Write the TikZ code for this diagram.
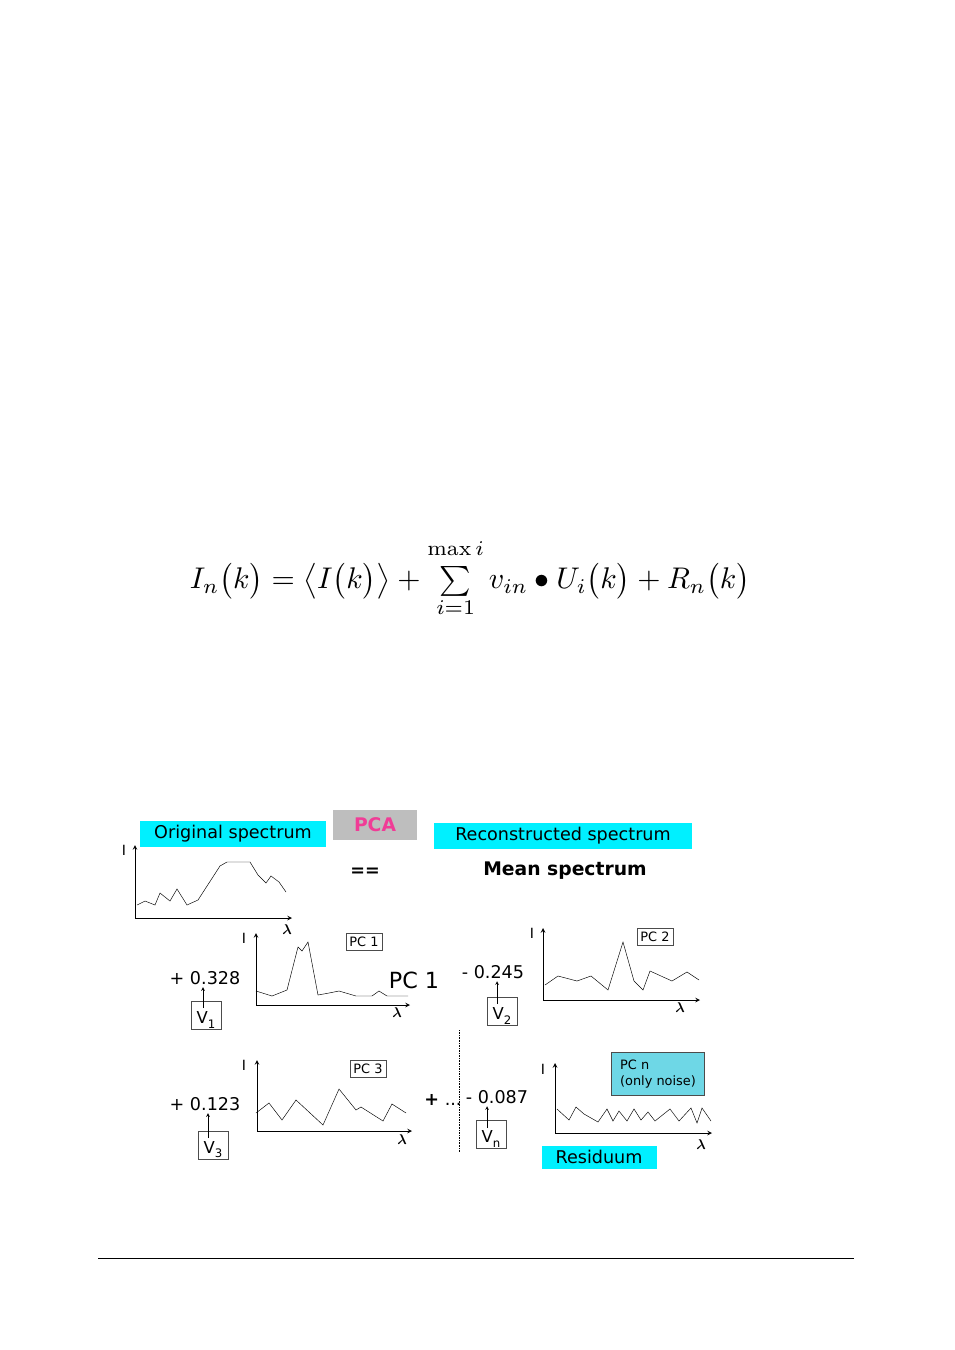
\documentclass[tikz,border=0pt]{standalone}
\usepackage{fontspec}
\setsansfont{DejaVu Sans}
\usepackage{amsmath}
\usetikzlibrary{arrows,positioning,patterns}
\definecolor{cyanbox}{RGB}{0,240,255}
\definecolor{pinktxt}{RGB}{240,60,150}
\definecolor{graybox}{RGB}{190,190,190}
\definecolor{noisebox}{RGB}{110,215,230}
\newcommand{\vsub}[1]{V\raisebox{-0.45ex}{\fontsize{10}{10}\selectfont #1}}
\begin{document}
\begin{tikzpicture}[x=0.03cm,y=-0.03cm]
\tikzstyle{label}=[font=\sffamily\fontsize{15}{17}\selectfont,inner sep=2pt]
\tikzstyle{cyanlabel}=[label,fill=cyanbox,inner xsep=5pt,inner ysep=4pt]
\tikzstyle{pcbox}=[draw=black!70,font=\sffamily\fontsize{11}{13}\selectfont,inner sep=3pt]
\tikzstyle{vbox}=[draw=black!70,minimum width=0.9cm,minimum height=0.85cm]
\tikzstyle{vtext}=[font=\sffamily\fontsize{14}{16}\selectfont,inner sep=1pt]
\tikzstyle{axis}=[->,>=stealth,thick]
\tikzstyle{curve}=[thin]
\tikzstyle{axlabel}=[font=\sffamily\fontsize{12}{14}\selectfont,inner sep=1pt]
\useasboundingbox (0,0) rectangle (954,1350);

% formula
\node (formula) at (470,578) {\resizebox{16.8cm}{!}{$I_n\bigl(k\bigr)=\bigl\langle I\bigl(k\bigr)\bigr\rangle+\sum\limits_{i=1}^{\raisebox{0.4ex}{$\scriptstyle\max i$}}v_{in}\bullet U_i\bigl(k\bigr)+R_n\bigl(k\bigr)$}};

% headings
\node[cyanlabel,minimum width=5.6cm] (orig) at (233,834) {Original spectrum};
\node[label,font=\sffamily\bfseries\fontsize{16}{18}\selectfont,fill=graybox,text=pinktxt,minimum width=2.5cm,minimum height=0.9cm] (pca) at (375,825) {PCA};
\node[cyanlabel,minimum width=7.75cm] (recon) at (563,836) {Reconstructed spectrum};
\node[label] (eq) at (365,872) {\textbf{==}};
\node[label,font=\sffamily\bfseries\fontsize{16}{18}\selectfont] (mean) at (565,871) {Mean spectrum};

% original spectrum
\coordinate (o0) at (135,918);
\draw[axis] (o0) -- (135,845);
\draw[axis] (o0) -- (292,918);
\node[axlabel] (oI) at (124,850) {I};
\node[axlabel] (olam) at (287,930) {$\boldsymbol\lambda$};
\draw[curve] (137,905) -- (145,901) -- (155,905) -- (160,893) -- (170,901) -- (177,889) -- (187,905) -- (198,900) -- (220,866) -- (227,862) -- (250,862) -- (258,875) -- (266,883) -- (271,876) -- (279,882) -- (286,892);

% PC 1
\coordinate (p10) at (256,1005);
\draw[axis] (p10) -- (256,933);
\draw[axis] (p10) -- (410,1005);
\node[axlabel] (p1I) at (244,938) {I};
\node[axlabel] (p1lam) at (397,1013) {$\boldsymbol\lambda$};
\draw[curve] (256,991) -- (272,996) -- (287,990) -- (298,947) -- (302,951) -- (308,942) -- (318,995) -- (329,993) -- (339,991) -- (356,996) -- (372,996) -- (379,991) -- (387,996) -- (408,996);
\node[pcbox] (pc1) at (364,942) {PC 1};
\node[label,font=\sffamily\fontsize{19}{21}\selectfont] (pc1big) at (414,980) {PC 1};
\node[label] (c1) at (205,978) {+ 0.328};
\node[vbox] (v1) at (206,1015) {};
\node[vtext] (v1t) at (206,1020) {\vsub{1}};
\draw[->,>=stealth] (203,1008) -- (c1.south -| 203,0);

% PC 2
\coordinate (p20) at (543,1000);
\draw[axis] (p20) -- (543,928);
\draw[axis] (p20) -- (700,1000);
\node[axlabel] (p2I) at (532,933) {I};
\node[axlabel] (p2lam) at (680,1008) {$\boldsymbol\lambda$};
\draw[curve] (545,985) -- (558,976) -- (577,981) -- (591,976) -- (608,990) -- (623,942) -- (634,981) -- (643,990) -- (650,971) -- (672,981) -- (687,972) -- (699,980);
\node[pcbox] (pc2) at (655,937) {PC 2};
\node[label] (c2) at (493,972) {- 0.245};
\node[vbox] (v2) at (502,1011) {};
\node[vtext] (v2t) at (502,1016) {\vsub{2}};
\draw[->,>=stealth] (497,1004) -- (c2.south -| 497,0);

% PC 3
\coordinate (p30) at (257,1131);
\draw[axis] (p30) -- (257,1060);
\draw[axis] (p30) -- (412,1131);
\node[axlabel] (p3I) at (244,1065) {I};
\node[axlabel] (p3lam) at (402,1140) {$\boldsymbol\lambda$};
\draw[curve] (256,1113) -- (269,1103) -- (282,1120) -- (296,1100) -- (323,1125) -- (339,1089) -- (356,1110) -- (361,1107) -- (383,1121) -- (392,1104) -- (406,1113);
\node[pcbox] (pc3) at (368,1069) {PC 3};
\node[label] (c3) at (205,1104) {+ 0.123};
\node[vbox] (v3) at (213,1145) {};
\node[vtext] (v3t) at (213,1150) {\vsub{3}};
\draw[->,>=stealth] (208,1138) -- (c3.south -| 208,0);

% dots and PC n
\node[label] (dots) at (443,1100) {\textbf{+} ...};
\coordinate (sepTop) at (459,1030);
\coordinate (sepBot) at (459,1152);
\draw[densely dotted] (sepTop) -- (sepBot);
\node[label] (cn) at (497,1097) {- 0.087};
\node[vbox] (vn) at (491,1134) {};
\node[vtext] (vnt) at (491,1139) {\vsub{n}};
\draw[->,>=stealth] (487,1128) -- (cn.south -| 487,0);
\coordinate (pn0) at (555,1133);
\draw[axis] (pn0) -- (555,1063);
\draw[axis] (pn0) -- (712,1133);
\node[axlabel] (pnI) at (543,1069) {I};
\node[axlabel] (pnlam) at (701,1145) {$\boldsymbol\lambda$};
\draw[curve] (557,1109) -- (569,1120) -- (576,1107) -- (584,1114) -- (598,1122) -- (607,1109) -- (613,1121) -- (619,1111) -- (627,1121) -- (634,1109) -- (641,1120) -- (648,1112) -- (655,1121) -- (670,1109) -- (679,1121) -- (691,1108) -- (697,1123) -- (702,1108) -- (711,1121);
\node[pcbox,fill=noisebox,align=left,minimum width=2.8cm,minimum height=1.3cm,font=\sffamily\fontsize{11}{14}\selectfont] (pcn) at (658,1074) {PC n\\(only noise)};
\node[cyanlabel,minimum width=3.45cm] (resid) at (599,1157) {Residuum};

% footer rule
\coordinate (ruleL) at (98,1258);
\coordinate (ruleR) at (854,1258);
\draw[thin] (ruleL) -- (ruleR);
\end{tikzpicture}
\end{document}
